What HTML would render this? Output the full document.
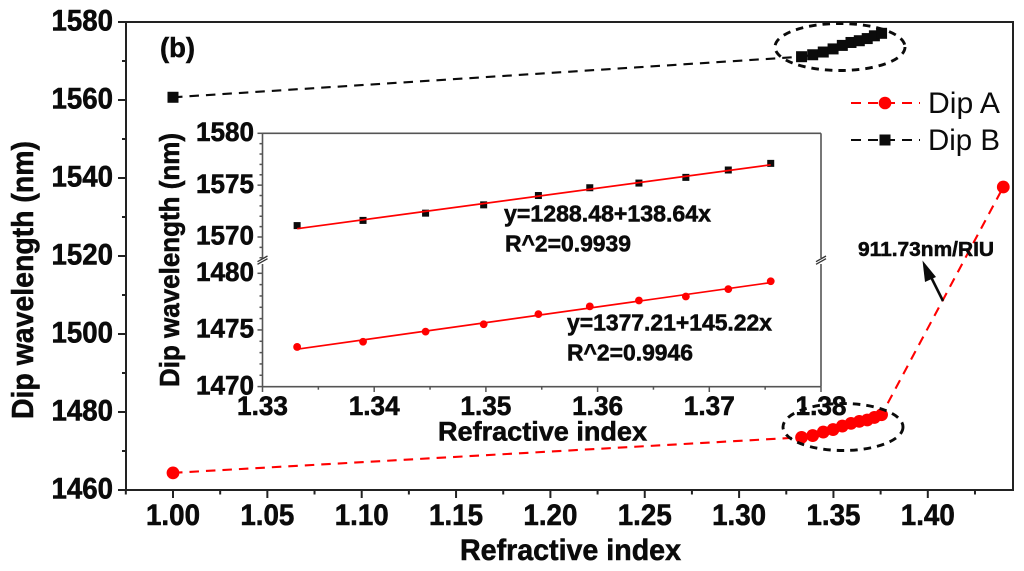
<!DOCTYPE html>
<html lang="en">
<head>
<meta charset="utf-8">
<title>Dip wavelength vs refractive index</title>
<style>
html,body{margin:0;padding:0;background:#fff;}
svg{display:block;}
text{font-family:"Liberation Sans",sans-serif;fill:#0b0b0b;}
.b{font-weight:bold;stroke:#0b0b0b;stroke-width:.55px;}
</style>
</head>
<body>
<svg id="chart" width="1024" height="571" viewBox="0 0 1024 571" xmlns="http://www.w3.org/2000/svg">
  <rect x="0" y="0" width="1024" height="571" fill="#fff"/>
  <rect x="126" y="22" width="887" height="468" fill="none" stroke="#222" stroke-width="2"/>
  <g id="main-ticks"></g>
  <g id="inset-ticks"></g>
  <g id="main-series"></g>
  <g id="inset-series"></g>

  <text class="b" x="160" y="57" font-size="28" textLength="35" lengthAdjust="spacingAndGlyphs">(b)</text>
  <text class="b" x="460" y="560" font-size="29.5" textLength="221" lengthAdjust="spacingAndGlyphs">Refractive index</text>
  <text class="b" transform="translate(33 419) rotate(-90)" font-size="30.5" textLength="278" lengthAdjust="spacingAndGlyphs">Dip wavelength (nm)</text>
  <text class="b" x="438" y="440.5" font-size="26.5" textLength="209" lengthAdjust="spacingAndGlyphs">Refractive index</text>
  <text class="b" transform="translate(179 387) rotate(-90)" font-size="28" textLength="254" lengthAdjust="spacingAndGlyphs">Dip wavelength (nm)</text>

  <text class="b" x="504" y="221.7" font-size="23.5" textLength="207" lengthAdjust="spacingAndGlyphs">y=1288.48+138.64x</text>
  <text class="b" x="505" y="251.7" font-size="23.5" textLength="126" lengthAdjust="spacingAndGlyphs">R^2=0.9939</text>
  <text class="b" x="567" y="330.7" font-size="23.5" textLength="205" lengthAdjust="spacingAndGlyphs">y=1377.21+145.22x</text>
  <text class="b" x="567" y="360.7" font-size="23.5" textLength="126" lengthAdjust="spacingAndGlyphs">R^2=0.9946</text>

  <ellipse cx="840" cy="47" rx="65" ry="23.5" fill="none" stroke="#0b0b0b" stroke-width="2.9" stroke-dasharray="7.5 6"/>
  <ellipse cx="843" cy="427" rx="60" ry="23.5" fill="none" stroke="#0b0b0b" stroke-width="2.9" stroke-dasharray="7.5 6"/>

  <g>
    <text class="b" x="858" y="256" font-size="20.5" textLength="136" lengthAdjust="spacingAndGlyphs">911.73nm/RIU</text>
    <line x1="943" y1="301" x2="929" y2="273" stroke="#0b0b0b" stroke-width="2.6"/>
    <polygon points="922.5,260.5 936,277 925,282" fill="#0b0b0b"/>
  </g>

  <g>
    <g>
      <line x1="851" y1="103" x2="920" y2="103" stroke="#f00" stroke-width="2" stroke-dasharray="10 7"/>
      <circle cx="885" cy="103" r="6.3" fill="#f00"/>
      <text x="928" y="113" font-size="30" textLength="72" lengthAdjust="spacingAndGlyphs">Dip A</text>
    </g>
    <g>
      <line x1="851" y1="140" x2="920" y2="140" stroke="#0b0b0b" stroke-width="2" stroke-dasharray="10 7"/>
      <rect x="879.5" y="134.5" width="11" height="11" fill="#0b0b0b"/>
      <text x="928" y="150" font-size="30" textLength="72" lengthAdjust="spacingAndGlyphs">Dip B</text>
    </g>
  </g>
</svg>
<script>
// ---- data ----
const mainXTicks = [1.00, 1.05, 1.10, 1.15, 1.20, 1.25, 1.30, 1.35, 1.40];
const mainXMinorTicks = [0.975, 1.025, 1.075, 1.125, 1.175, 1.225, 1.275, 1.325, 1.375, 1.425];
const mainYTicks = [1460, 1480, 1500, 1520, 1540, 1560, 1580];
const mainYMinorTicks = [1470, 1490, 1510, 1530, 1550, 1570];

const clusterIndex = [1.3331, 1.3390, 1.3446, 1.3498, 1.3547, 1.3593, 1.3637, 1.3679, 1.3717, 1.3755];
const clusterDipA = [1473.5, 1473.96, 1474.85, 1475.5, 1476.4, 1477.08, 1477.6, 1477.95, 1478.6, 1479.3];
const clusterDipB = [1571.1, 1571.6, 1572.3, 1573.1, 1574.0, 1574.75, 1575.2, 1575.75, 1576.46, 1577.1];

const airIndex = [1.00];
const airDipA = [1464.4];
const airDipB = [1560.7];
const highIndex = [1.44];
const highDipA = [1537.7];

const insetXTicks = [1.33, 1.34, 1.35, 1.36, 1.37, 1.38];
const insetXMinorTicks = [1.335, 1.345, 1.355, 1.365, 1.375];
const insetUpperTicks = [1570, 1575, 1580];
const insetUpperMinorTicks = [1568, 1569, 1571, 1572, 1573, 1574, 1576, 1577, 1578, 1579];
const insetLowerTicks = [1470, 1475, 1480];
const insetLowerMinorTicks = [1471, 1472, 1473, 1474, 1476, 1477, 1478, 1479];

const fitRange = [1.3331, 1.3755];
const fitUpper = [1377.21, 145.22];
const fitLower = [1288.48, 138.64];

// ---- axis functions ----
function mainX(v) { return 173 + (v - 1) * 1887; }
function mainY(v) { return 490 - (v - 1460) * 3.9; }
function insetX(v) { return 262.5 + (v - 1.33) * 11170; }
function insetUpperY(v) { return 133.3 + (1580 - v) * 10.37; }
function insetLowerY(v) { return 273.3 + (1480 - v) * 11.33; }

const NS = 'http://www.w3.org/2000/svg';
function make(tag, parent, props) {
  const el = document.createElementNS(NS, tag);
  for (const k in props) el.setAttribute(k, props[k]);
  parent.appendChild(el);
  return el;
}
function tick(parent, name, x1, y1, x2, y2, color, width) {
  const el = make('line', parent, { x1: x1, y1: y1, x2: x2, y2: y2, stroke: color, 'stroke-width': width });
  
  
}
function label(parent, name, x, y, size, anchor, str, len) {
  const el = make('text', parent, { x: x, y: y, 'font-size': size, 'text-anchor': anchor, class: 'b', textLength: len, lengthAdjust: 'spacingAndGlyphs' });
  el.textContent = str;
  
  
}
function dashed(parent, name, xs, ys, color) {
  const pts = xs.map(function (x, i) { return x + ',' + ys[i]; }).join(' ');
  const el = make('polyline', parent, { points: pts, fill: 'none', stroke: color, 'stroke-width': 2.1, 'stroke-dasharray': '9.5 7' });
  
  
}
function dot(parent, name, x, y, r) {
  const el = make('circle', parent, { cx: x, cy: y, r: r, fill: '#f00' });
  
  
}
function square(parent, name, x, y, s) {
  const el = make('rect', parent, { x: x - s / 2, y: y - s / 2, width: s, height: s, fill: '#0b0b0b' });
  
  
}

// ---- main axes ----
const mt = document.getElementById('main-ticks');
mainXTicks.forEach(function (v) {
  tick(mt, 'x-tick', mainX(v), 490, mainX(v), 498, '#222', 2);
  label(mt, 'x-tick-label', mainX(v), 525, 29.5, 'middle', v.toFixed(2), 54);
});
mainXMinorTicks.forEach(function (v) {
  tick(mt, 'x-minor-tick', mainX(v), 490, mainX(v), 494.5, '#222', 2);
});
mainYTicks.forEach(function (v) {
  tick(mt, 'y-tick', 126, mainY(v), 118, mainY(v), '#222', 2);
  label(mt, 'y-tick-label', 113, mainY(v) + 8.6, 29.5, 'end', String(v), 61.5);
});
mainYMinorTicks.forEach(function (v) {
  tick(mt, 'y-minor-tick', 126, mainY(v), 122, mainY(v), '#222', 2);
});

// ---- inset axes ----
const it = document.getElementById('inset-ticks');
const insetColor = '#555';
const insetBreakTop = 258;
const insetBreakBottom = 264;
tick(it, 'inset-top-border', 262.5, 133.3, 821, 133.3, insetColor, 1.6);
tick(it, 'inset-bottom-border', 262.5, 386.7, 821, 386.7, insetColor, 1.6);
tick(it, 'inset-left-border-upper', 262.5, 133.3, 262.5, insetBreakTop, insetColor, 1.6);
tick(it, 'inset-left-border-lower', 262.5, insetBreakBottom, 262.5, 386.7, insetColor, 1.6);
tick(it, 'inset-right-border-upper', 821, 133.3, 821, insetBreakTop, insetColor, 1.6);
tick(it, 'inset-right-border-lower', 821, insetBreakBottom, 821, 386.7, insetColor, 1.6);
[262.5, 821].forEach(function (x) {
  tick(it, 'inset-axis-break-mark', x - 5, 261.7, x + 5, 256, '#333', 1.3);
  tick(it, 'inset-axis-break-mark', x - 5, 264.3, x + 5, 258.7, '#333', 1.3);
});
insetXTicks.forEach(function (v) {
  tick(it, 'inset-x-tick', insetX(v), 386.7, insetX(v), 392, insetColor, 1.5);
  label(it, 'inset-x-tick-label', insetX(v), 415, 27, 'middle', v.toFixed(2), 51);
});
insetXMinorTicks.forEach(function (v) {
  tick(it, 'inset-x-minor-tick', insetX(v), 386.7, insetX(v), 389.7, insetColor, 1.5);
});
insetUpperTicks.forEach(function (v) {
  tick(it, 'inset-y-tick', 262.5, insetUpperY(v), 257.5, insetUpperY(v), insetColor, 1.5);
  label(it, 'inset-y-tick-label', 254, insetUpperY(v) + 7.7, 27, 'end', String(v), 58);
});
insetUpperMinorTicks.forEach(function (v) {
  tick(it, 'inset-y-minor-tick', 262.5, insetUpperY(v), 259.5, insetUpperY(v), insetColor, 1.5);
});
insetLowerTicks.forEach(function (v) {
  tick(it, 'inset-y-tick', 262.5, insetLowerY(v), 257.5, insetLowerY(v), insetColor, 1.5);
  label(it, 'inset-y-tick-label', 254, insetLowerY(v) + 7.7, 27, 'end', String(v), 58);
});
insetLowerMinorTicks.forEach(function (v) {
  tick(it, 'inset-y-minor-tick', 262.5, insetLowerY(v), 259.5, insetLowerY(v), insetColor, 1.5);
});

// ---- main series ----
const ms = document.getElementById('main-series');
const allAIndex = airIndex.concat(clusterIndex, highIndex);
const allADip = airDipA.concat(clusterDipA, highDipA);
const allBIndex = airIndex.concat(clusterIndex);
const allBDip = airDipB.concat(clusterDipB);
dashed(ms, 'dip-a-line', allAIndex.map(mainX), allADip.map(mainY), '#f00');
dashed(ms, 'dip-b-line', allBIndex.map(mainX), allBDip.map(mainY), '#0b0b0b');
allAIndex.forEach(function (v, i) {
  dot(ms, 'dip-a-point', mainX(v), mainY(allADip[i]), 6.4);
});
allBIndex.forEach(function (v, i) {
  square(ms, 'dip-b-point', mainX(v), mainY(allBDip[i]), 11);
});

// ---- inset series ----
const is = document.getElementById('inset-series');
clusterIndex.forEach(function (v, i) {
  square(is, 'inset-dip-b-point', insetX(v), insetUpperY(clusterDipB[i]), 7);
  dot(is, 'inset-dip-a-point', insetX(v), insetLowerY(clusterDipA[i]), 3.9);
});
tick(is, 'inset-dip-b-fit-line',
  insetX(fitRange[0]), insetUpperY(fitUpper[0] + fitUpper[1] * fitRange[0]),
  insetX(fitRange[1]), insetUpperY(fitUpper[0] + fitUpper[1] * fitRange[1]), '#f00', 1.7);
tick(is, 'inset-dip-a-fit-line',
  insetX(fitRange[0]), insetLowerY(fitLower[0] + fitLower[1] * fitRange[0]),
  insetX(fitRange[1]), insetLowerY(fitLower[0] + fitLower[1] * fitRange[1]), '#f00', 1.7);
</script>
</body>
</html>
